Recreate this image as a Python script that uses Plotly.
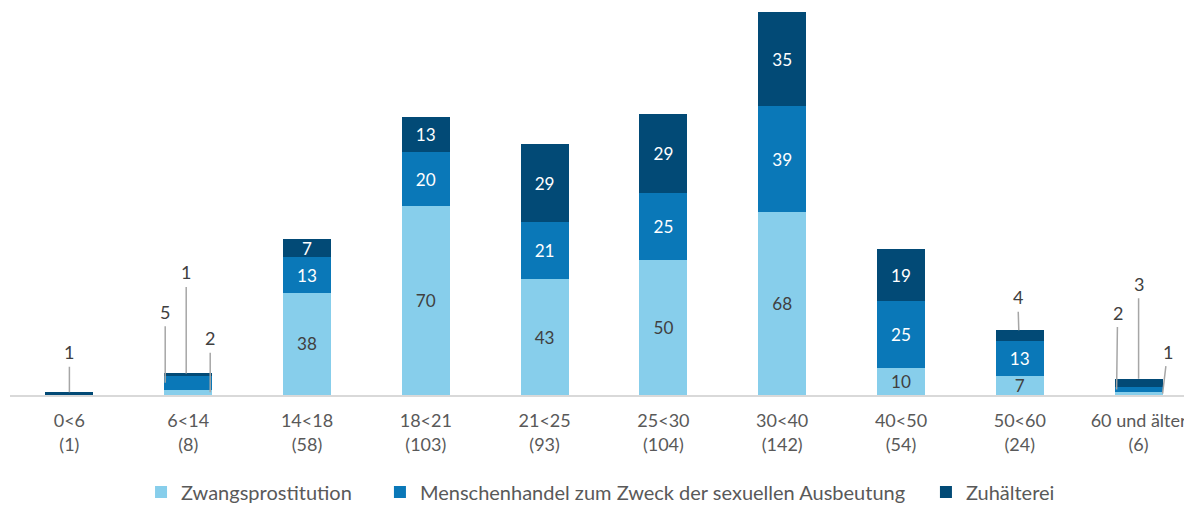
import plotly.graph_objects as go

categories = ["0<6", "6<14", "14<18", "18<21", "21<25", "25<30", "30<40", "40<50", "50<60", "60 und älter"]
zwangsprostitution = [0, 2, 38, 70, 43, 50, 68, 10, 7, 1]
menschenhandel = [0, 5, 13, 20, 21, 25, 39, 25, 13, 2]
zuhaelterei = [1, 1, 7, 13, 29, 29, 35, 19, 4, 3]
totals = [a + b + c for a, b, c in zip(zwangsprostitution, menschenhandel, zuhaelterei)]
tick_labels = [f"{c}<br>({t})" for c, t in zip(categories, totals)]

series_names = ["Zwangsprostitution", "Menschenhandel zum Zweck der sexuellen Ausbeutung", "Zuhälterei"]
series_values = [zwangsprostitution, menschenhandel, zuhaelterei]
colors = ["#87ceeb", "#0a78b8", "#024a76"]
text_colors = ["#404040", "#ffffff", "#ffffff"]

FONT = "Lato, 'Open Sans', sans-serif"
MIN_INSIDE = 7
legend_ids = ["legend", "legend2", "legend3"]
legend_x = [0.1103, 0.3114, 0.7710]

fig = go.Figure()
for i, (name, vals, col, tcol) in enumerate(zip(series_names, series_values, colors, text_colors)):
    texts = [str(v) if v >= MIN_INSIDE else "" for v in vals]
    fig.add_trace(go.Bar(
        x=list(range(len(categories))), y=vals, name=name, legend=legend_ids[i],
        marker=dict(color=col, line=dict(width=0)),
        text=texts, textposition="inside", insidetextanchor="middle", textangle=0,
        textfont=dict(family=FONT, size=18, color=tcol), hoverinfo="skip",
    ))

# leader-line labels for small segments: (category index, series index, anchor, xshift, ax, ay)
leaders = [
    (0, 2, "top", 0, 0, -40),
    (1, 1, "mid", -23, 0, -71),
    (1, 2, "top", -2, 0, -101),
    (1, 0, "mid", 22, 0, -54),
    (8, 2, "top", -1, -1, -33),
    (9, 1, "mid", -22, 1, -77),
    (9, 2, "top", 0, 0, -95),
    (9, 0, "mid", 24, 5, -42),
]
for ci, si, anchor, xs, ax, ay in leaders:
    base = sum(series_values[k][ci] for k in range(si))
    v = series_values[si][ci]
    y = base + v if anchor == "top" else base + v / 2
    fig.add_annotation(
        x=ci, y=y, text=str(v), showarrow=True, arrowhead=0,
        arrowwidth=1.5, arrowcolor="#a6a6a6", ax=ax, ay=ay, xshift=xs,
        font=dict(family=FONT, size=18, color="#404040"), standoff=0, startstandoff=2,
    )

legend_common = dict(orientation="h", xanchor="left", y=-0.253, yanchor="middle",
                     font=dict(family=FONT, size=20, color="#595959"), itemwidth=30,
                     bgcolor="rgba(0,0,0,0)")
fig.update_layout(
    barmode="stack", bargap=0.595,
    width=1192, height=506,
    margin=dict(l=2, r=2, t=4, b=119, autoexpand=False),
    paper_bgcolor="white", plot_bgcolor="white",
    font=dict(family=FONT, color="#595959", size=17),
    uniformtext=dict(minsize=17, mode="show"),
    legend=dict(x=legend_x[0], **legend_common),
    legend2=dict(x=legend_x[1], **legend_common),
    legend3=dict(x=legend_x[2], **legend_common),
    showlegend=True,
)
fig.update_xaxes(showline=True, linecolor="#d9d9d9", linewidth=1.5, showgrid=False,
                 tickmode="array", tickvals=list(range(len(categories))), ticktext=tick_labels,
                 range=[-0.5, 9.5], ticklabelstandoff=9,
                 tickfont=dict(family=FONT, size=18, color="#595959"), ticks="")
fig.update_yaxes(range=[0, 142], visible=False, showgrid=False)

fig.write_html("out.html")
